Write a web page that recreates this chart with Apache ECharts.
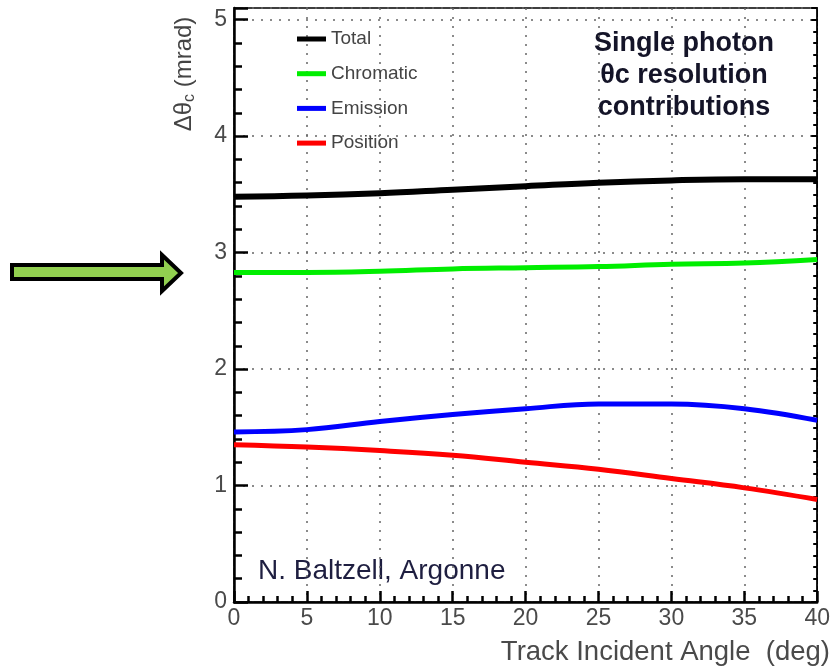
<!DOCTYPE html>
<html><head><meta charset="utf-8">
<script src="https://cdn.jsdelivr.net/npm/echarts@6/dist/echarts.min.js"></script>
<style>html,body{margin:0;padding:0;background:#fff}#c{width:833px;height:666px}</style>
</head><body><div id="c"></div>
<script>
const angles = [0, 5, 10, 15, 20, 25, 30, 35, 40];
const total = [3.48, 3.49, 3.51, 3.54, 3.57, 3.60, 3.62, 3.63, 3.63];
const chromatic = [2.83, 2.83, 2.84, 2.86, 2.87, 2.88, 2.90, 2.91, 2.94];
const emission = [1.46, 1.48, 1.55, 1.61, 1.66, 1.70, 1.70, 1.66, 1.56];
const position = [1.35, 1.33, 1.30, 1.26, 1.20, 1.14, 1.06, 0.98, 0.88];
const seriesNames = ['Total', 'Chromatic', 'Emission', 'Position'];
const seriesColors = ['#000000', '#00ee00', '#0000ff', '#ff0000'];
const xTicks = [0, 5, 10, 15, 20, 25, 30, 35, 40];
const yTicks = [0, 1, 2, 3, 4, 5];

const FONT = 'Liberation Sans, Arial, sans-serif';
const chart = echarts.init(document.getElementById('c'));
const allData = [total, chromatic, emission, position];

const series = allData.map((vals, i) => ({
  name: seriesNames[i],
  type: 'line',
  smooth: 0.4,
  showSymbol: false,
  data: angles.map((a, j) => [a, vals[j]]),
  lineStyle: { color: seriesColors[i], width: i === 0 ? 6 : 5 },
  itemStyle: { color: seriesColors[i] },
  z: 5
}));

const gridDotted = { show: true, lineStyle: { color: '#666', type: [2, 7], width: 1.5 } };
const TICKC = '#000';

chart.setOption({
  animation: false,
  backgroundColor: '#fff',
  grid: { left: 234, right: 13, top: 8, bottom: 64, show: true, borderColor: '#000', borderWidth: 1.5 },
  legend: {
    orient: 'vertical', left: 292, top: 24,
    itemWidth: 29, itemHeight: 5, itemGap: 14.7,
    icon: 'rect',
    data: seriesNames,
    textStyle: { fontFamily: FONT, fontSize: 19, color: '#444', lineHeight: 20 },
    selectedMode: false
  },
  xAxis: {
    type: 'value', min: 0, max: 40, interval: 5,
    axisLine: { show: true, lineStyle: { color: '#000', width: 2.5 } },
    axisTick: { show: true, inside: true, length: 11, lineStyle: { color: TICKC, width: 2.5 } },
    minorTick: { show: true, splitNumber: 5, length: 6, lineStyle: { color: TICKC, width: 2.5 } },
    axisLabel: { show: true, color: '#4a4a4a', fontFamily: FONT, fontSize: 23, margin: 5,
      formatter: v => xTicks.includes(v) ? String(v) : '' },
    splitLine: gridDotted
  },
  yAxis: [{
    type: 'value', min: 0, max: 5.1, interval: 1,
    axisLine: { show: true, lineStyle: { color: '#000', width: 2.5 } },
    axisTick: { show: true, inside: true, length: 14, lineStyle: { color: TICKC, width: 2.5 } },
    minorTick: { show: true, splitNumber: 5, length: 8, lineStyle: { color: TICKC, width: 2.5 } },
    axisLabel: { show: true, color: '#4a4a4a', fontFamily: FONT, fontSize: 23, margin: 7,
      formatter: v => yTicks.includes(v) ? String(v) : '' },
    splitLine: gridDotted
  }, {
    type: 'value', min: 0, max: 5.1, interval: 1, position: 'right',
    axisLine: { show: true, lineStyle: { color: '#000', width: 1.5 } },
    axisTick: { show: true, inside: true, length: 6, lineStyle: { color: '#000', width: 2 } },
    minorTick: { show: true, splitNumber: 10, length: 4, lineStyle: { color: '#000', width: 2 } },
    axisLabel: { show: false },
    splitLine: { show: false }
  }],
  series: series,
  graphic: [
    {
      type: 'text', x: 184, y: 74, rotation: Math.PI / 2,
      style: {
        text: '{a|Δθ}{s|c}{a| (mrad)}',
        fill: '#444', align: 'center', verticalAlign: 'middle',
        rich: {
          a: { fontFamily: FONT, fontSize: 24, fill: '#444' },
          s: { fontFamily: FONT, fontSize: 16, fill: '#444', padding: [12, 0, 0, 0] }
        }
      }
    },
    {
      type: 'text', x: 830, y: 652,
      style: { text: 'Track Incident Angle  (deg)', fontFamily: FONT, fontSize: 27.5, fill: '#4a4a4a', align: 'right', verticalAlign: 'middle' }
    },
    {
      type: 'text', x: 684, y: 76,
      style: {
        text: 'Single photon\nθc resolution\ncontributions', fontFamily: FONT, fontSize: 27, fontWeight: 'bold',
        fill: '#141428', align: 'center', verticalAlign: 'middle', lineHeight: 32
      }
    },
    {
      type: 'text', x: 258, y: 571,
      style: { text: 'N. Baltzell, Argonne', fontFamily: FONT, fontSize: 28, fill: '#1e1e40', verticalAlign: 'middle' }
    },
    {
      type: 'polygon',
      shape: { points: [[12, 265], [162, 265], [162, 255], [181, 273], [162, 291], [162, 279], [12, 279]] },
      style: { fill: '#92d050', stroke: '#000', lineWidth: 4, lineJoin: 'miter' }
    }
  ]
});
</script></body></html>
